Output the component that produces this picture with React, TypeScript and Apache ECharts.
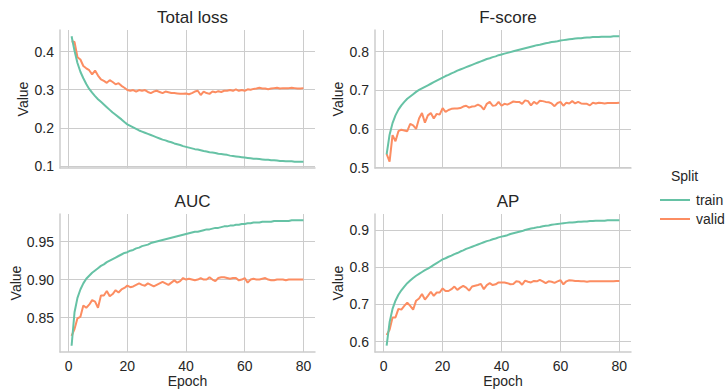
import React, { useEffect, useRef } from "react";
import * as echarts from "echarts";

const epochs: number[] = Array.from({ length: 80 }, (_, i) => i + 1);

const lossTrain = [
  0.44, 0.402, 0.37, 0.347, 0.33, 0.315, 0.302, 0.292, 0.283, 0.275,
  0.268, 0.261, 0.254, 0.247, 0.24, 0.234, 0.228, 0.222, 0.215, 0.209,
  0.205, 0.201, 0.197, 0.193, 0.19, 0.187, 0.184, 0.181, 0.178, 0.175,
  0.172, 0.169, 0.167, 0.164, 0.162, 0.159, 0.157, 0.155, 0.152, 0.15,
  0.148, 0.146, 0.144, 0.143, 0.141, 0.139, 0.138, 0.136, 0.135, 0.134,
  0.132, 0.131, 0.13, 0.129, 0.127, 0.126, 0.125, 0.124, 0.123, 0.122,
  0.121, 0.12, 0.119, 0.119, 0.118, 0.117, 0.116, 0.116, 0.115, 0.115,
  0.114, 0.113, 0.113, 0.112, 0.112, 0.112, 0.111, 0.111, 0.111, 0.111,
];
const lossValid = [
  0.427, 0.425, 0.385, 0.379, 0.362, 0.356, 0.351, 0.34, 0.35, 0.337,
  0.327, 0.323, 0.318, 0.325, 0.32, 0.314, 0.317, 0.31, 0.305, 0.299,
  0.297, 0.299, 0.295, 0.299, 0.297, 0.299, 0.294, 0.291, 0.295, 0.297,
  0.294, 0.291, 0.295, 0.293, 0.291, 0.291, 0.29, 0.289, 0.289, 0.29,
  0.288, 0.291, 0.295, 0.297, 0.286, 0.295, 0.291, 0.289, 0.295, 0.293,
  0.296, 0.294, 0.297, 0.297, 0.299, 0.297, 0.301, 0.297, 0.299, 0.297,
  0.301, 0.3, 0.302, 0.303, 0.305, 0.303, 0.303, 0.301, 0.303, 0.304,
  0.305, 0.303, 0.304, 0.304, 0.304, 0.305, 0.304, 0.303, 0.303, 0.304,
];
const fscoreTrain = [
  0.534, 0.585, 0.615, 0.635, 0.65, 0.661, 0.67, 0.678, 0.684, 0.69,
  0.696, 0.701, 0.705, 0.709, 0.713, 0.717, 0.721, 0.725, 0.729, 0.733,
  0.737, 0.74, 0.744, 0.747, 0.751, 0.754, 0.757, 0.76, 0.763, 0.766,
  0.769, 0.772, 0.775, 0.778, 0.781, 0.783, 0.786, 0.788, 0.791, 0.793,
  0.795, 0.797, 0.799, 0.801, 0.803, 0.805, 0.807, 0.809, 0.811, 0.813,
  0.815, 0.817, 0.818, 0.82, 0.822, 0.823, 0.825, 0.826, 0.827, 0.829,
  0.83, 0.831, 0.832, 0.833, 0.834, 0.835, 0.835, 0.836, 0.837, 0.837,
  0.838, 0.838, 0.838, 0.839, 0.839, 0.839, 0.839, 0.84, 0.84, 0.84,
];
const fscoreValid = [
  0.535, 0.515, 0.584, 0.568, 0.594, 0.598, 0.596, 0.594, 0.613, 0.609,
  0.6, 0.627, 0.641, 0.616, 0.635, 0.641, 0.627, 0.639, 0.637, 0.654,
  0.644, 0.649, 0.652, 0.653, 0.653, 0.654, 0.658, 0.66, 0.655, 0.658,
  0.659, 0.663, 0.659, 0.65, 0.665, 0.67, 0.66, 0.661, 0.67, 0.66,
  0.665, 0.663, 0.667, 0.671, 0.67, 0.67, 0.665, 0.674, 0.672, 0.661,
  0.67, 0.665, 0.673, 0.672, 0.67, 0.669, 0.666, 0.659, 0.667, 0.67,
  0.66, 0.668, 0.666, 0.672, 0.666, 0.67, 0.666, 0.665, 0.665, 0.661,
  0.668, 0.666, 0.668, 0.667, 0.666, 0.667, 0.667, 0.667, 0.667, 0.668,
];
const aucTrain = [
  0.813, 0.857, 0.876, 0.887, 0.895, 0.901, 0.905, 0.909, 0.912, 0.915,
  0.918, 0.92, 0.923, 0.925, 0.927, 0.929, 0.931, 0.933, 0.935, 0.936,
  0.938, 0.939, 0.941, 0.942, 0.944, 0.945, 0.946, 0.948, 0.949, 0.95,
  0.951, 0.952, 0.953, 0.954, 0.955, 0.956, 0.957, 0.958, 0.959, 0.96,
  0.961, 0.962, 0.963, 0.963, 0.964, 0.965, 0.966, 0.966, 0.967, 0.968,
  0.968, 0.969, 0.97, 0.97, 0.971, 0.971, 0.972, 0.972, 0.973, 0.973,
  0.974, 0.974, 0.975, 0.975, 0.975, 0.976, 0.976, 0.976, 0.976, 0.977,
  0.977, 0.977, 0.977, 0.977, 0.977, 0.978, 0.978, 0.978, 0.978, 0.978,
];
const aucValid = [
  0.826, 0.835, 0.849, 0.851, 0.866, 0.863, 0.867, 0.873, 0.871, 0.863,
  0.879, 0.879, 0.885, 0.878, 0.881, 0.886, 0.883, 0.887, 0.889, 0.892,
  0.89, 0.891, 0.893, 0.895, 0.893, 0.892, 0.895, 0.893, 0.891, 0.893,
  0.895, 0.897, 0.895, 0.893, 0.896, 0.899, 0.896, 0.898, 0.902, 0.9,
  0.901, 0.9, 0.899, 0.9, 0.902, 0.9, 0.9, 0.903, 0.9, 0.898,
  0.902, 0.903, 0.903, 0.902, 0.901, 0.902, 0.902, 0.899, 0.9, 0.902,
  0.896, 0.9, 0.901, 0.9, 0.9, 0.901, 0.902, 0.9, 0.899, 0.899,
  0.9, 0.9, 0.9, 0.899, 0.9, 0.9, 0.9, 0.9, 0.9, 0.9,
];
const apTrain = [
  0.589, 0.652, 0.688, 0.71, 0.726, 0.738, 0.748, 0.757, 0.764, 0.771,
  0.777, 0.782, 0.787, 0.792, 0.796, 0.801, 0.806, 0.811, 0.816, 0.821,
  0.824, 0.828, 0.831, 0.835, 0.838, 0.842, 0.845, 0.849, 0.852, 0.855,
  0.858, 0.861, 0.864, 0.867, 0.87, 0.872, 0.875, 0.877, 0.88, 0.882,
  0.884, 0.886, 0.889, 0.891, 0.893, 0.895, 0.897, 0.9, 0.902, 0.904,
  0.905, 0.907, 0.908, 0.91, 0.911, 0.912, 0.914, 0.915, 0.916, 0.917,
  0.918, 0.919, 0.92, 0.92, 0.921, 0.922, 0.922, 0.923, 0.923, 0.924,
  0.924, 0.925, 0.925, 0.925, 0.925, 0.926, 0.926, 0.926, 0.926, 0.926,
];
const apValid = [
  0.618, 0.632, 0.665, 0.665, 0.688, 0.686, 0.696, 0.705, 0.696, 0.686,
  0.71, 0.716, 0.728, 0.713, 0.723, 0.734, 0.723, 0.732, 0.732, 0.743,
  0.736, 0.736, 0.741, 0.748, 0.739, 0.745, 0.75, 0.745, 0.737, 0.748,
  0.75, 0.752, 0.755, 0.741, 0.752, 0.757, 0.752, 0.754, 0.759, 0.759,
  0.759, 0.757, 0.754, 0.755, 0.762, 0.761, 0.753, 0.764, 0.761, 0.759,
  0.763, 0.762, 0.766, 0.762, 0.757, 0.762, 0.761, 0.758, 0.762, 0.765,
  0.754, 0.762, 0.765, 0.764, 0.763, 0.763, 0.762, 0.762, 0.761, 0.762,
  0.762, 0.762, 0.762, 0.762, 0.762, 0.762, 0.762, 0.762, 0.763, 0.763,
];

const epochTicks = [0, 20, 40, 60, 80];
const lossTicks = [0.1, 0.2, 0.3, 0.4];
const fscoreTicks = [0.5, 0.6, 0.7, 0.8];
const aucTicks = [0.85, 0.9, 0.95];
const apTicks = [0.6, 0.7, 0.8, 0.9];

const splitNames = ["train", "valid"];
const panelTitles = ["Total loss", "F-score", "AUC", "AP"];

const TRAIN_COLOR = "#66c2a5";
const VALID_COLOR = "#fc8d62";
const TEXT = "#262626";
const GRID = "#cccccc";
const FONT = "Liberation Sans, Arial, sans-serif";

export default function App() {
  const ref = useRef<HTMLDivElement>(null);
  useEffect(() => {
    if (!ref.current) return;
    const chart = echarts.init(ref.current, undefined, { renderer: "svg" });

    const panels = [
      { title: panelTitles[0], train: lossTrain, valid: lossValid, ticks: lossTicks, dec: 1, left: 60, top: 30, width: 255, bottomRow: false, nameGap: 30 },
      { title: panelTitles[1], train: fscoreTrain, valid: fscoreValid, ticks: fscoreTicks, dec: 1, left: 375, top: 30, width: 256, bottomRow: false, nameGap: 30 },
      { title: panelTitles[2], train: aucTrain, valid: aucValid, ticks: aucTicks, dec: 2, left: 60, top: 214, width: 255, bottomRow: true, nameGap: 37 },
      { title: panelTitles[3], train: apTrain, valid: apValid, ticks: apTicks, dec: 1, left: 375, top: 214, width: 256, bottomRow: true, nameGap: 30 },
    ];
    const height = 138;

    const xMin = epochs[0] - (epochs[epochs.length - 1] - epochs[0]) * 0.05;
    const xMax = epochs[epochs.length - 1] + (epochs[epochs.length - 1] - epochs[0]) * 0.05;

    const grid: any[] = [];
    const xAxis: any[] = [];
    const yAxis: any[] = [];
    const series: any[] = [];
    const title: any[] = [];

    panels.forEach((p, i) => {
      grid.push({ left: p.left, top: p.top, width: p.width, height, containLabel: false });
      xAxis.push({
        type: "value",
        gridIndex: i,
        min: xMin,
        max: xMax,
        name: p.bottomRow ? "Epoch" : "",
        nameLocation: "middle",
        nameGap: 21,
        nameTextStyle: { color: TEXT, fontSize: 14, fontFamily: FONT },
        axisLine: { show: true, onZero: false, lineStyle: { color: GRID, width: 1.5 } },
        axisTick: { show: false, customValues: epochTicks },
        axisLabel: {
          show: p.bottomRow,
          customValues: epochTicks,
          color: TEXT,
          fontSize: 14,
          fontFamily: FONT,
          margin: 7,
          formatter: (v: number) => String(v),
        },
        splitLine: { show: true, lineStyle: { color: GRID, width: 1 } },
      });
      const all = p.train.concat(p.valid);
      const lo = Math.min(...all);
      const hi = Math.max(...all);
      const pad = (hi - lo) * 0.05;
      yAxis.push({
        type: "value",
        gridIndex: i,
        min: lo - pad,
        max: hi + pad,
        name: "Value",
        nameLocation: "middle",
        nameGap: p.nameGap,
        nameTextStyle: { color: TEXT, fontSize: 14, fontFamily: FONT },
        axisLine: { show: true, onZero: false, lineStyle: { color: GRID, width: 1.5 } },
        axisTick: { show: false, customValues: p.ticks },
        axisLabel: {
          customValues: p.ticks,
          color: TEXT,
          fontSize: 14,
          fontFamily: FONT,
          margin: 6,
          formatter: (v: number) => v.toFixed(p.dec),
        },
        splitLine: { show: true, lineStyle: { color: GRID, width: 1 } },
      });
      title.push({
        text: p.title,
        left: p.left + p.width / 2,
        top: p.top - 26,
        textAlign: "center",
        textStyle: { color: TEXT, fontSize: 17, fontWeight: "normal", fontFamily: FONT },
      });
      const mk = (name: string, vals: number[], color: string) => ({
        type: "line",
        name,
        xAxisIndex: i,
        yAxisIndex: i,
        data: epochs.map((e, k) => [e, vals[k]]),
        symbol: "none",
        showSymbol: false,
        lineStyle: { color, width: 2 },
        itemStyle: { color },
        z: name === "train" ? 3 : 2,
      });
      series.push(mk(splitNames[0], p.train, TRAIN_COLOR));
      series.push(mk(splitNames[1], p.valid, VALID_COLOR));
    });

    chart.setOption({
      animation: false,
      backgroundColor: "#ffffff",
      textStyle: { fontFamily: FONT },
      title,
      grid,
      xAxis,
      yAxis,
      series,
      legend: {
        data: splitNames,
        orient: "vertical",
        left: 654,
        top: 188,
        itemWidth: 30,
        itemHeight: 14,
        itemGap: 5,
        itemStyle: { opacity: 0 },
        lineStyle: { width: 2 },
        textStyle: { color: TEXT, fontSize: 14, fontFamily: FONT, padding: [0, 0, 0, 1] },
        selectedMode: false,
      },
      graphic: [
        {
          type: "text",
          left: 671,
          top: 169,
          style: { text: "Split", fill: TEXT, fontSize: 14, fontFamily: FONT },
        },
      ],
    });
    return () => chart.dispose();
  }, []);
  return (
    <div
      ref={ref}
      style={{ position: "fixed", left: 0, top: 0, width: 725, height: 389 }}
    />
  );
}
